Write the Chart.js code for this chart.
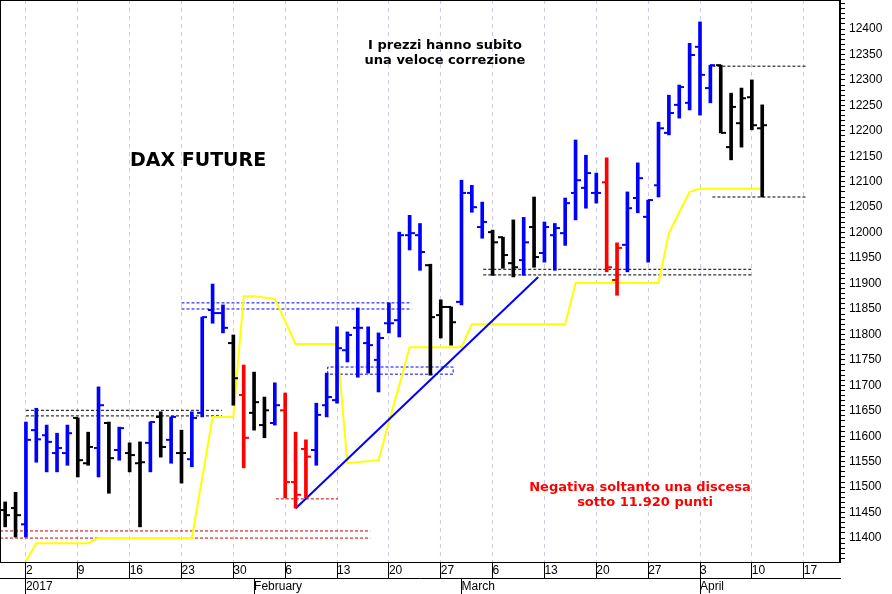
<!DOCTYPE html>
<html><head><meta charset="utf-8">
<script src="https://cdn.jsdelivr.net/npm/chart.js@4"></script>
<style>html,body{margin:0;padding:0;background:#fff}#wrap{position:relative;width:892px;height:594px}</style>
</head><body><div id="wrap"><canvas id="c" width="892" height="594"></canvas></div>
<script>
const dayIndex = [-2,-1,0,1,2,3,4,5,6,7,8,9,10,11,12,13,14,15,16,17,18,19,20,21,22,23,24,25,26,27,28,29,30,31,32,33,34,35,36,37,38,39,40,41,42,43,44,45,46,47,48,49,50,51,52,53,54,55,56,57,58,59,60,61,62,63,64,65,66,67,68,69,70,71];
const opens  = [11455,11459,11427,11612,11602,11567,11567,11636,11547,11577,11626,11573,11567,11547,11587,11638,11593,11567,11555,11646,11848,11842,11783,11681,11646,11622,11626,11651,11510,11575,11573,11661,11671,11769,11813,11783,11750,11822,11828,11995,11995,11936,11838,11854,11864,12078,12011,12001,11991,11940,11946,12011,11960,11995,11999,12078,12088,12078,12099,11907,11976,12068,12031,12093,12196,12251,12255,12365,12284,12329,12168,12215,12266,12205];
const highs  = [11471,11490,11628,11655,11622,11606,11622,11636,11608,11697,11628,11618,11587,11589,11628,11648,11638,11612,11648,11834,11899,11858,11799,11740,11726,11677,11705,11685,11608,11593,11665,11724,11815,11805,11852,11815,11803,11862,12001,12034,12018,11938,11868,11854,12103,12093,12060,12005,11991,12025,12030,12070,12021,12018,12068,12182,12152,12117,12147,11980,12080,12137,12064,12217,12270,12290,12372,12414,12329,12329,12274,12284,12300,12251];
const lows   = [11422,11402,11402,11549,11530,11530,11543,11520,11543,11520,11488,11553,11530,11422,11530,11559,11547,11508,11540,11638,11822,11803,11661,11538,11612,11597,11622,11479,11459,11479,11543,11638,11665,11746,11716,11724,11687,11803,11795,11966,11926,11720,11793,11779,11858,12040,11989,11916,11930,11913,11916,11932,11942,11926,11975,12025,12048,12058,11923,11877,11923,12039,11942,12070,12192,12225,12241,12231,12255,12196,12143,12168,12202,12070];
const closes = [11445,11445,11593,11594,11589,11577,11606,11553,11579,11661,11557,11616,11563,11549,11628,11579,11638,11567,11636,11834,11842,11813,11714,11597,11667,11651,11661,11510,11485,11560,11642,11677,11773,11799,11813,11779,11793,11822,11995,11999,11962,11834,11854,11824,12078,12050,12021,11981,11956,11932,11981,11952,12011,12009,12058,12103,12117,12078,11932,11970,12048,12107,12064,12205,12235,12286,12349,12310,12329,12196,12247,12264,12211,12211];
const barColors = ['k','k','b','b','b','b','b','k','k','b','k','b','k','k','b','k','b','k','b','b','b','b','k','r','k','k','b','r','r','r','b','b','b','b','b','b','b','b','b','b','b','k','k','k','b','b','b','k','k','k','b','k','b','b','b','b','b','b','r','r','b','b','b','b','b','b','b','b','b','k','k','k','k','k'];
const avgIndex = [0,1,6,7,16,17,18,20,21,22,24,25,26,30,31,34,35,36,37,42,43,52,53,61,62,63,64,65,71];
const avgValues= [11355,11390,11390,11400,11400,11519,11638,11638,11875,11875,11870,11826,11781,11781,11547,11553,11628,11700,11775,11775,11820,11820,11901,11901,11999,12040,12080,12086,12086];
const trendIndex = [26,49.4];
const trendValues = [11458,11913];
const mondayIndex = [0,5,10,15,20,25,30,35,40,45,50,55,60,65,70,75];
const mondayLabels = ['2','9','16','23','30','6','13','20','27','6','13','20','27','3','10','17'];
const monthIndex = [0,22,42,65];
const monthLabels = ['2017','February','March','April'];
const texts = {title:'DAX FUTURE', note1:['I prezzi hanno subito','una veloce correzione'], note2:['Negativa soltanto una discesa','sotto 11.920 punti']};

const colMap = {b:'#0000ff', k:'#000000', r:'#ff0000'};
const cols = barColors.map(c=>colMap[c]);
function seg(x1,x2,y){return [{x:x1,y:y},{x:x2,y:y}];}
function dash(data,color){return {type:'line',data,borderColor:color,borderWidth:1,borderDash:[3,2],pointRadius:0,fill:false,order:5};}

const ohlcPlugin = {
  id:'ohlc',
  afterDatasetsDraw(chart){
    const ctx=chart.ctx, xs=chart.scales.x, ys=chart.scales.y;
    ctx.save();
    ctx.lineWidth=2;
    dayIndex.forEach((d,i)=>{
      const x=Math.round(xs.getPixelForValue(d));
      ctx.strokeStyle=cols[i];
      const yo=ys.getPixelForValue(opens[i]), yc=ys.getPixelForValue(closes[i]);
      ctx.beginPath();ctx.moveTo(x-5,yo);ctx.lineTo(x,yo);ctx.stroke();
      ctx.beginPath();ctx.moveTo(x,yc);ctx.lineTo(x+5,yc);ctx.stroke();
    });
    ctx.textAlign='left';ctx.textBaseline='middle';
    ctx.fillStyle='#000';ctx.font='bold 19px "DejaVu Sans"';
    ctx.fillText(texts.title,130,161);
    ctx.textAlign='center';ctx.font='bold 13px "DejaVu Sans"';
    ctx.fillText(texts.note1[0],445,46);ctx.fillText(texts.note1[1],445,61);
    ctx.fillStyle='#ff0000';
    ctx.fillText(texts.note2[0],640,488);ctx.fillText(texts.note2[1],645,503);
    const a=chart.chartArea;
    ctx.strokeStyle='#000';ctx.lineWidth=1;
    ctx.strokeRect(a.left+0.5,a.top+0.5,a.right-a.left-1,a.bottom-a.top);
    ctx.restore();
  }
};

const datasets = [
  {type:'bar',data:dayIndex.map((d,i)=>({x:d,y:[lows[i],highs[i]]})),backgroundColor:cols,barThickness:3,borderWidth:0,order:1},
  {type:'line',data:avgIndex.map((d,i)=>({x:d,y:avgValues[i]})),borderColor:'#ffff00',borderWidth:2,pointRadius:0,fill:false,order:3},
  {type:'line',data:trendIndex.map((d,i)=>({x:d,y:trendValues[i]})),borderColor:'#0000ff',borderWidth:2,pointRadius:0,fill:false,order:2},
  dash(seg(-2.5,33.2,11414),'#cc0000'),
  dash(seg(-2.5,33.2,11400),'#cc0000'),
  dash(seg(0,18.9,11651),'#000'),
  dash(seg(0,18.9,11640),'#000'),
  dash(seg(15,37.2,11862),'#0000ff'),
  dash(seg(15,37.2,11850),'#0000ff'),
  dash([{x:29.1,y:11722},{x:29.1,y:11736},{x:41.2,y:11736},{x:41.2,y:11722},{x:29.1,y:11722}],'#0000ff'),
  dash(seg(24.1,30.1,11477),'#cc0000'),
  dash(seg(44.1,70,11928),'#000'),
  dash(seg(44.1,70,11917),'#000'),
  dash(seg(66.2,75.3,12327),'#000'),
  dash(seg(66.2,75.3,12070),'#000')
];
const tickFont = {family:'"Liberation Sans"',size:12};

new Chart(document.getElementById('c'),{
  data:{datasets},
  plugins:[ohlcPlugin],
  options:{
    responsive:false,animation:false,
    layout:{padding:0},
    plugins:{legend:{display:false},tooltip:{enabled:false}},
    scales:{
      x:{type:'linear',min:-2.5,max:78.5,position:'bottom',offset:false,
        afterBuildTicks(s){s.ticks=mondayIndex.map(v=>({value:v}));},
        afterFit(s){s.height=16;s.paddingLeft=0;s.paddingRight=0;},
        grid:{offset:false,color:'#c8c8f0',drawTicks:true,tickLength:16,tickColor:'#000'},
        border:{display:false,dash:[4,4]},
        ticks:{autoSkip:false,maxRotation:0,align:'start',padding:-15,color:'#000',font:tickFont,
          callback:(v)=>{const k=mondayIndex.indexOf(v);return k>=0?mondayLabels[k]:'';}}
      },
      x2:{type:'linear',min:-2.5,max:78.5,position:'bottom',offset:false,
        afterBuildTicks(s){s.ticks=monthIndex.map(v=>({value:v}));},
        afterFit(s){s.height=16;s.paddingLeft=0;s.paddingRight=0;},
        grid:{offset:false,drawOnChartArea:false,drawTicks:true,tickLength:16,tickColor:'#000'},
        border:{display:true,color:'#000'},
        ticks:{autoSkip:false,maxRotation:0,align:'start',padding:-15,color:'#000',font:tickFont,
          callback:(v)=>{const k=monthIndex.indexOf(v);return k>=0?monthLabels[k]:'';}}
      },
      y:{type:'linear',position:'right',min:11353,max:12457,
        afterBuildTicks(s){const t=[];for(let v=11360;v<=12450;v+=10)t.push({value:v});s.ticks=t;},
        afterFit(s){s.width=52;s.paddingTop=0;s.paddingBottom=0;},
        grid:{drawOnChartArea:false,tickLength:5,tickColor:'#000'},
        border:{display:true,color:'#000'},
        ticks:{autoSkip:false,color:'#000',padding:4,font:tickFont,
          callback:(v)=>(v%50===0&&v<=12400&&v>=11400)?String(v):''}
      }
    }
  }
});
</script></body></html>
